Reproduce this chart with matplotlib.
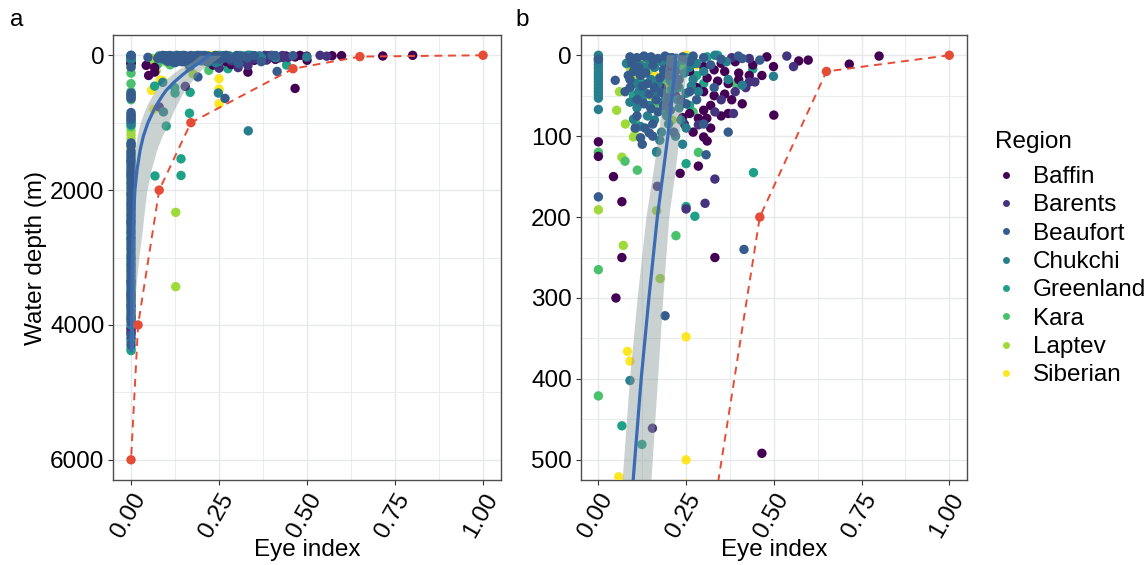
import numpy as np
import matplotlib.pyplot as plt
from matplotlib.lines import Line2D

plt.rcParams['font.family'] = ['Liberation Sans', 'DejaVu Sans']

regions = ["Baffin", "Barents", "Beaufort", "Chukchi", "Greenland", "Kara", "Laptev", "Siberian"]
region_colors = ["#440154", "#46337E", "#365C8D", "#277F8E", "#1FA187", "#4AC16D", "#9FDA3A", "#FDE725"]

# (eye index, water depth m) per region
baffin = [(0.30, 14), (0.33, 18), (0.36, 20), (0.40, 22), (0.43, 25), (0.466, 25), (0.40, 30), (0.37, 35),
          (0.34, 32), (0.31, 28), (0.28, 40), (0.30, 45), (0.33, 50), (0.36, 48), (0.38, 55), (0.41, 60),
          (0.32, 62), (0.30, 68), (0.309, 78), (0.285, 78), (0.35, 75), (0.37, 72), (0.26, 72), (0.24, 77),
          (0.30, 101), (0.31, 106), (0.285, 137), (0.233, 146), (0.50, 74), (0.499, 14), (0.571, 7),
          (0.598, 6), (0.715, 11), (0.80, 1), (0.44, 12), (0.26, 20), (0.22, 30), (0.35, 10), (0.0, 107),
          (0.0, 125), (0.043, 150), (0.067, 181), (0.067, 250), (0.332, 250), (0.05, 300), (0.466, 492),
          (0.48, 2), (0.39, 8), (0.27, 95), (0.32, 90),
          (0, 3560), (0, 4050), (0, 4120)]

barents = [(0.537, 1), (0.556, 14), (0.446, 33), (0.43, 33), (0.385, 72), (0.332, 70), (0.245, 85),
           (0.285, 86), (0.332, 153), (0.304, 183), (0.25, 190), (0.154, 461), (0.42, 40), (0.39, 45),
           (0.35, 55), (0.27, 10), (0.22, 50), (0.20, 15), (0.18, 40), (0.38, 3), (0.43, 4), (0.20, 60),
           (0.168, 162), (0.08, 766),
           (0, 1560), (0, 2470), (0, 3350), (0, 3720), (0, 4080), (0, 4200)]

beaufort = [(0, 5), (0.048, 31), (0.076, 45), (0.09, 2), (0.11, 3), (0.13, 1), (0.15, 2), (0.17, 4),
            (0.19, 1), (0.21, 3), (0.24, 2), (0.27, 1), (0.30, 3), (0.399, 1), (0.41, 4), (0.46, 6),
            (0.10, 20), (0.12, 25), (0.14, 35), (0.16, 40), (0.18, 46), (0.20, 52), (0.09, 40), (0.11, 55),
            (0.13, 60), (0.15, 66), (0.17, 70), (0.133, 90), (0.145, 96), (0.12, 102), (0.11, 75),
            (0.20, 25), (0.23, 30), (0.26, 45), (0.28, 55), (0.307, 123), (0.415, 240), (0.19, 322),
            (0, 175), (0.25, 60), (0.33, 40), (0.37, 95), (0.30, 85), (0.085, 25), (0.105, 90),
            (0.125, 110), (0.155, 100), (0.175, 28), (0.22, 20), (0.26, 8), (0.32, 12), (0.35, 5),
            (0.095, 10), (0.115, 15), (0.135, 22), (0.155, 12), (0.185, 18), (0.205, 10), (0.225, 38),
            (0.165, 55), (0.185, 62), (0.145, 48), (0.125, 38), (0.205, 68), (0.215, 95), (0.235, 55),
            (0.09, 30), (0.155, 85),
            (0.267, 640),
            (0, 560), (0, 600), (0, 640), (0, 850), (0, 900), (0, 950), (0, 1300), (0, 1350), (0, 1420),
            (0, 1500), (0, 1580), (0, 1650), (0, 1720), (0, 1800), (0, 1880), (0, 1960), (0, 2050),
            (0, 2130), (0, 2200), (0, 2280), (0, 2360), (0, 2450), (0, 2530), (0, 2610), (0, 2700),
            (0, 2780), (0, 2860), (0, 2950), (0, 3030), (0, 3120), (0, 3200), (0, 3280), (0, 3370),
            (0, 3450), (0, 3540), (0, 3620), (0, 3700), (0, 3790), (0, 3870), (0, 3950), (0, 4150),
            (0, 4300)]

chukchi = [(0, 0), (0, 4), (0, 8), (0, 12), (0, 16), (0, 21), (0, 25), (0, 29), (0, 33), (0, 37), (0, 41),
           (0, 45), (0, 49), (0, 53), (0, 67), (0.08, 10), (0.10, 6), (0.12, 12), (0.14, 4), (0.16, 15),
           (0.18, 8), (0.20, 3), (0.22, 12), (0.24, 6), (0.26, 15), (0.28, 10), (0.30, 20), (0.332, 0),
           (0.365, 8), (0.37, 30), (0.41, 37), (0.499, 26), (0.15, 30), (0.17, 36), (0.19, 55),
           (0.21, 42), (0.23, 65), (0.25, 47), (0.27, 30), (0.13, 45), (0.11, 65), (0.09, 58), (0.20, 85),
           (0.22, 100), (0.18, 95), (0.16, 80), (0.14, 75), (0.10, 79), (0.166, 119), (0.25, 90),
           (0.09, 402), (0.12, 88), (0.24, 110),
           (0.105, 35), (0.125, 55), (0.145, 62), (0.165, 45), (0.185, 25), (0.205, 32), (0.225, 55),
           (0.245, 22), (0.265, 38), (0.285, 45), (0.175, 105), (0.195, 75), (0.235, 80), (0.115, 45),
           (0.135, 15),
           (0.333, 1121), (0.092, 840), (0.248, 560),
           (0, 580), (0, 620), (0, 880), (0, 930), (0, 980), (0, 1030), (0, 1320), (0, 1450), (0, 1540),
           (0, 1610), (0, 1690), (0, 1760), (0, 1840), (0, 1920), (0, 2000), (0, 2090), (0, 2170),
           (0, 2240), (0, 2320), (0, 2410), (0, 2490), (0, 2570), (0, 2650), (0, 2740), (0, 2820),
           (0, 2900), (0, 2990), (0, 3070), (0, 3160), (0, 3240), (0, 3330), (0, 3410), (0, 3500),
           (0, 3580), (0, 3660), (0, 3750), (0, 3830), (0, 3910), (0, 4000), (0, 4250)]

greenland = [(0.34, 0), (0.442, 145), (0.275, 199), (0.25, 187), (0.25, 134), (0.067, 458), (0.124, 481),
             (0.20, 20), (0.23, 40), (0.26, 62), (0.30, 35), (0.12, 32), (0.10, 50), (0.166, 120),
             (0.15, 5), (0.25, 3), (0.31, 2), (0.44, 17), (0.19, 70), (0.28, 25),
             (0.166, 860), (0.10, 1050), (0.068, 1790), (0.142, 1536), (0.142, 1783), (0.168, 550),
             (0.125, 560),
             (0, 1000), (0, 1470), (0, 1780), (0, 2060), (0, 2380), (0, 2720), (0, 3100), (0, 3500),
             (0, 3900), (0, 4380)]

kara = [(0, 120), (0, 265), (0, 421), (0.076, 131), (0.111, 142), (0.105, 82), (0.221, 223), (0.18, 30),
        (0.20, 45), (0.12, 20), (0.285, 120), (0.16, 60), (0.24, 15), (0.27, 70), (0.39, 35),
        (0, 540), (0, 660), (0, 1060), (0, 1750), (0, 2230), (0, 2640), (0, 3000), (0, 3400), (0, 4350)]

laptev = [(0.052, 68), (0.077, 85), (0.10, 101), (0.105, 92), (0.067, 126), (0, 191), (0.071, 235),
          (0.176, 276), (0.166, 192), (0.09, 15), (0.11, 25), (0.143, 18), (0.171, 30), (0.20, 35),
          (0.15, 50), (0.06, 45), (0.21, 80),
          (0.127, 2330), (0.127, 3432),
          (0, 1120), (0, 1180), (0, 1240), (0, 1900), (0, 2500), (0, 3180), (0, 3600)]

siberian = [(0, 18), (0.10, 12), (0.10, 29), (0.083, 366), (0.09, 378), (0.25, 348), (0.25, 500),
            (0.058, 521), (0.13, 5), (0.15, 8), (0.22, 6), (0.19, 20), (0.23, 4), (0.25, 0), (0.16, 25),
            (0.28, 12), (0.25, 720), (0.25, 530), (0.065, 800),
            (0, 1380), (0, 2020), (0, 2300), (0, 2600), (0, 2880), (0, 3300), (0, 3650), (0, 3850)]

region_points = dict(zip(regions, [baffin, barents, beaufort, chukchi, greenland, kara, laptev, siberian]))
draw_order = ["Siberian", "Laptev", "Kara", "Greenland", "Baffin", "Barents", "Chukchi", "Beaufort"]

# fitted curve with confidence band
smooth_depth = [0, 50, 100, 150, 200, 300, 400, 520, 600, 700, 800, 900, 1000, 1200, 1400, 1700,
                2000, 2300, 2600, 3000, 3500, 4000, 4380]
smooth_eye = [0.222, 0.210, 0.198, 0.183, 0.168, 0.144, 0.122, 0.100, 0.089, 0.077, 0.066, 0.057, 0.048,
              0.035, 0.026, 0.017, 0.011, 0.008, 0.006, 0.004, 0.0025, 0.0015, 0.001]
smooth_lo = [0.195, 0.184, 0.172, 0.155, 0.137, 0.112, 0.090, 0.070, 0.060, 0.049, 0.040, 0.033, 0.026,
             0.017, 0.011, 0.008, 0.006, 0.005, 0.004, 0.002, 0.001, 0.0, 0.0]
smooth_hi = [0.255, 0.244, 0.232, 0.218, 0.202, 0.185, 0.170, 0.152, 0.143, 0.133, 0.123, 0.115, 0.106,
             0.088, 0.073, 0.057, 0.045, 0.038, 0.032, 0.022, 0.013, 0.008, 0.005]

# reference (dashed red) line
ref_eye = [1.0, 0.65, 0.46, 0.17, 0.08, 0.02, 0.0]
ref_depth = [0, 20, 200, 1000, 2000, 4000, 6000]

RED = "#E64B35"
BLUE = "#3A6BB5"
GRID = "#E6EAEA"
FS = 17.5


def draw_panel(ax, ylim, yticks, yminor):
    for name in draw_order:
        arr = np.array(region_points[name])
        col = region_colors[regions.index(name)]
        ax.scatter(arr[:, 0], arr[:, 1], s=46, color=col, edgecolors='none', zorder=3)
    ax.fill_betweenx(smooth_depth, smooth_lo, smooth_hi, color='#8A9999', alpha=0.45, lw=0, zorder=4)
    ax.plot(smooth_eye, smooth_depth, color=BLUE, lw=2.3, zorder=5)
    ax.plot(ref_eye, ref_depth, color=RED, lw=1.4, ls=(0, (4, 3)), zorder=6)
    ax.scatter(ref_eye, ref_depth, s=46, color=RED, edgecolors='none', zorder=7)

    ax.set_xlim(-0.05, 1.05)
    ax.set_ylim(ylim)
    ax.set_xticks([0, 0.25, 0.5, 0.75, 1.0])
    ax.set_xticks([0.125, 0.375, 0.625, 0.875], minor=True)
    ax.set_xticklabels(["0.00", "0.25", "0.50", "0.75", "1.00"], rotation=60, ha='right',
                       rotation_mode='anchor')
    ax.set_yticks(yticks)
    ax.set_yticks(yminor, minor=True)
    ax.grid(True, which='major', color=GRID, lw=1.0, zorder=0)
    ax.grid(True, which='minor', color=GRID, lw=0.6, zorder=0)
    ax.set_axisbelow(True)
    ax.tick_params(which='major', length=3.5, width=0.8, color='#333333', labelsize=FS,
                   labelcolor='black', pad=3)
    ax.tick_params(which='minor', length=0)
    for sp in ax.spines.values():
        sp.set_color('#4D4D4D')
        sp.set_linewidth(1.0)
    ax.set_xlabel("Eye index", fontsize=FS, labelpad=-2)


fig = plt.figure(figsize=(11.47, 5.65), dpi=100)
ax1 = fig.add_axes([0.0989, 0.1504, 0.3376, 0.7876])
ax2 = fig.add_axes([0.5064, 0.1504, 0.3365, 0.7876])

draw_panel(ax1, (6300, -300), [0, 2000, 4000, 6000], [1000, 3000, 5000])
ax1.set_ylabel("Water depth (m)", fontsize=FS, labelpad=2)
draw_panel(ax2, (525, -25), [0, 100, 200, 300, 400, 500], [50, 150, 250, 350, 450])

fig.text(10 / 1147, 1 - 20 / 565, "a", fontsize=FS, va='center', ha='left')
fig.text(515 / 1147, 1 - 20 / 565, "b", fontsize=FS, va='center', ha='left')

# legend: title placed separately so the gap to the first entry matches
fig.text(995 / 1147, 1 - 142 / 565, "Region", fontsize=17.5, va='center', ha='left')
handles = [Line2D([0], [0], marker='o', ls='none', markersize=5, markerfacecolor=c, markeredgecolor='none')
           for c in region_colors]
fig.legend(handles, regions, loc='upper left', bbox_to_anchor=(994 / 1147, 1 - 166 / 565),
           frameon=False, fontsize=17.5, handletextpad=0.6, labelspacing=0.26,
           handlelength=1.0, borderaxespad=0, borderpad=0)

fig.savefig("out.png", dpi=100)
